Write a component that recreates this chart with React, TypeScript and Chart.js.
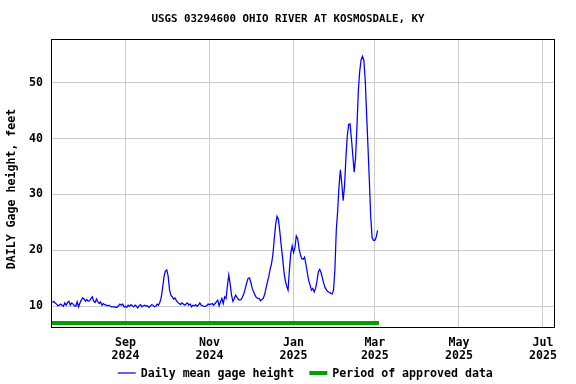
import React, { useEffect, useRef } from "react";
import { Chart, registerables } from "chart.js";

Chart.register(...registerables);

// ---- data ----
const TITLE = "USGS 03294600 OHIO RIVER AT KOSMOSDALE, KY";
const Y_TITLE = "DAILY Gage height, feet";
const SERIES_LABEL = "Daily mean gage height";
const APPROVED_LABEL = "Period of approved data";

const SERIES_START = "2024-07-10"; // first daily value
const AXIS_START = "2024-07-09";
const AXIS_END = "2025-07-09";
const APPROVED_START = "2024-07-09";
const APPROVED_END = "2025-03-04";
const APPROVED_LEVEL = 7.0;

const tickDates = ["2024-09-01", "2024-11-01", "2025-01-01", "2025-03-01", "2025-05-01", "2025-07-01"];
const tickMonths = ["Sep", "Nov", "Jan", "Mar", "May", "Jul"];
const tickYears = ["2024", "2024", "2025", "2025", "2025", "2025"];
const yTicks = [10, 20, 30, 40, 50];
const Y_MIN = 6.3;
const Y_MAX = 57.8;

// daily mean gage height (feet), Jul 10 2024 onward
const gageJulAug = [
  10.7, 10.9, 10.6, 10.4, 10.1, 10.2, 10.4, 10.2, 10.0, 10.6,
  10.2, 10.7, 10.9, 10.2, 10.6, 10.4, 10.1, 10.0, 10.8, 9.9,
  10.6, 11.1, 11.5, 11.3, 10.9, 11.2, 10.9, 11.0, 11.4, 11.7,
  10.9, 10.7, 11.3, 10.8, 10.5, 10.8, 10.2, 10.5, 10.3, 10.2,
  10.1, 10.2, 10.0, 9.9, 9.9, 9.9, 9.8, 9.8, 10.1, 10.4,
  10.2, 10.4, 9.9,
];
const gageSepOct = [
  10.0, 9.8, 10.2, 10.0, 10.3, 10.1, 9.9, 10.2, 10.0, 9.7,
  10.1, 10.3, 9.9, 10.1, 10.2, 10.0, 10.1, 9.8, 10.0, 10.3,
  10.2, 9.9, 10.0, 10.4, 10.2,
  10.7, 11.6, 13.3, 15.3, 16.3, 16.5, 15.4, 13.0, 12.0, 11.7,
  11.3, 11.5, 11.0, 10.7, 10.5, 10.3, 10.6, 10.4, 10.2, 10.4,
  10.6, 10.2, 10.4, 9.9, 10.2, 10.1, 10.3, 10.0, 10.2,
];
const gageNovDec = [
  10.6, 10.2, 10.1, 10.0, 10.0, 10.1, 10.4, 10.3, 10.4, 10.5,
  10.2, 10.5, 10.8, 11.1, 10.1, 10.8, 11.4, 10.5, 11.7, 11.4,
  13.6, 15.6, 14.0, 12.0, 10.9, 11.4, 12.0, 11.6, 11.2, 11.1,
  11.2, 11.7, 12.3, 13.2, 14.2, 15.0, 15.1, 14.3, 13.2, 12.6,
  12.0, 11.6, 11.4, 11.4, 11.0, 11.2, 11.4, 12.1, 13.2, 14.3,
  15.3, 16.6, 17.6, 19.2,
];
const gageDecJan = [
  22.0, 24.6, 26.1, 25.6, 23.5, 21.0, 18.8, 16.3, 14.6, 13.6,
  12.9, 16.5, 19.5, 20.8, 19.6, 20.5, 22.6, 22.1, 20.3, 19.2,
  18.5, 18.4, 18.8, 17.5, 16.0, 14.6, 13.8, 12.9, 13.2, 12.6,
  13.2, 14.5, 16.2, 16.6, 16.0, 15.0, 14.0, 13.3, 12.9, 12.6,
];
const gageJanMar = [
  12.5, 12.3, 12.2, 12.9, 16.5, 23.5, 27.0, 31.5, 34.4, 32.0,
  28.9, 31.5, 36.5, 40.5, 42.5, 42.6, 40.0, 37.0, 34.0, 36.5,
  42.0, 48.5, 52.0, 54.0, 54.7, 54.0, 50.5, 44.5, 38.6, 32.5,
  26.0, 22.3, 21.8, 21.8, 22.4, 23.6,
];

const gageHeight = [...gageJulAug, ...gageSepOct, ...gageNovDec, ...gageDecJan, ...gageJanMar];

const DAY = 86400000;
const dayOf = (iso: string) =>
  (Date.parse(iso + "T00:00:00Z") - Date.parse(SERIES_START + "T00:00:00Z")) / DAY;

const FONT_FAMILY = "'DejaVu Sans Mono', 'Liberation Mono', monospace";
const FONT_SIZE = 11.6;
const TITLE_SIZE = 10.8;

const SERIES_COLOR = "#0000ff";
const APPROVED_COLOR = "#00a000";

const framePlugin = {
  id: "frameAndLegend",
  afterDraw(chart: any) {
    const { ctx, chartArea: a, width } = chart;
    ctx.save();
    // frame
    ctx.strokeStyle = "#000";
    ctx.lineWidth = 1;
    ctx.strokeRect(a.left + 0.5, a.top + 0.5, a.right - a.left, a.bottom - a.top);

    // chart title, centred on the canvas
    ctx.fillStyle = "#000";
    ctx.font = `bold ${TITLE_SIZE}px ${FONT_FAMILY}`;
    ctx.textAlign = "center";
    ctx.textBaseline = "middle";
    ctx.fillText(TITLE, width / 2, 19.5);

    ctx.font = `bold ${FONT_SIZE}px ${FONT_FAMILY}`;

    // y axis title
    ctx.save();
    ctx.translate(11.5, 189);
    ctx.rotate(-Math.PI / 2);
    ctx.textAlign = "center";
    ctx.textBaseline = "middle";
    ctx.fillText(Y_TITLE, 0, 0);
    ctx.restore();

    // legend
    const items = chart.data.datasets.map((ds: any) => ({
      text: ds.label,
      color: ds.borderColor,
      width: ds.label === SERIES_LABEL ? 1.25 : ds.borderWidth,
    }));
    const sample = 18;
    const gap = 5;
    const itemGap = 15;
    const widths = items.map((it: any) => sample + gap + ctx.measureText(it.text).width);
    const total = widths.reduce((s: number, w: number) => s + w, 0) + itemGap * (items.length - 1);
    let x = (a.left + a.right) / 2 + 2.8 - total / 2;
    const y = 373;
    ctx.textAlign = "left";
    ctx.textBaseline = "middle";
    items.forEach((it: any, i: number) => {
      ctx.beginPath();
      ctx.strokeStyle = it.color;
      ctx.lineWidth = it.width;
      ctx.moveTo(x, y);
      ctx.lineTo(x + sample, y);
      ctx.stroke();
      ctx.fillStyle = "#000";
      ctx.fillText(it.text, x + sample + gap, y + 0.5);
      x += widths[i] + itemGap;
    });
    ctx.restore();
  },
};

export default function App() {
  const canvasRef = useRef<HTMLCanvasElement | null>(null);

  useEffect(() => {
    const canvas = canvasRef.current;
    if (!canvas) return;
    const tickDays = tickDates.map(dayOf);
    const font = { family: FONT_FAMILY, size: FONT_SIZE, weight: "bold" as const };

    const chart = new Chart(canvas, {
      type: "line",
      data: {
        datasets: [
          {
            label: SERIES_LABEL,
            data: gageHeight.map((v, i) => ({ x: i, y: v })),
            borderColor: SERIES_COLOR,
            backgroundColor: SERIES_COLOR,
            borderWidth: 1.25,
            pointRadius: 0,
            tension: 0,
            fill: false,
          },
          {
            label: APPROVED_LABEL,
            data: [
              { x: dayOf(APPROVED_START), y: APPROVED_LEVEL },
              { x: dayOf(APPROVED_END), y: APPROVED_LEVEL },
            ],
            borderColor: APPROVED_COLOR,
            backgroundColor: APPROVED_COLOR,
            borderWidth: 4,
            borderCapStyle: "butt",
            pointRadius: 0,
            fill: false,
          },
        ],
      },
      options: {
        responsive: false,
        animation: false,
        events: [],
        layout: { padding: { left: 0, right: 22, top: 39, bottom: 23 } },
        plugins: {
          legend: { display: false },
          tooltip: { enabled: false },
          title: { display: false },
        },
        scales: {
          x: {
            type: "linear",
            min: dayOf(AXIS_START),
            max: dayOf(AXIS_END),
            afterBuildTicks: (scale: any) => {
              scale.ticks = tickDays.map((v) => ({ value: v }));
            },
            afterFit: (scale: any) => {
              scale.height = 34;
            },
            ticks: {
              autoSkip: false,
              maxRotation: 0,
              padding: 9,
              color: "#000",
              font: { ...font, lineHeight: "13px" },
              callback: (_v: any, i: number) => [tickMonths[i], tickYears[i]],
            },
            grid: { color: "#cccccc", lineWidth: 1, drawTicks: false },
            border: { display: false },
          },
          y: {
            type: "linear",
            min: Y_MIN,
            max: Y_MAX,
            afterBuildTicks: (scale: any) => {
              scale.ticks = yTicks.map((v) => ({ value: v }));
            },
            afterFit: (scale: any) => {
              scale.width = 51;
            },
            ticks: {
              padding: 8,
              color: "#000",
              font,
              callback: (v: any) => String(v),
            },
            grid: { color: "#cccccc", lineWidth: 1, drawTicks: false },
            border: { display: false },
          },
        },
      },
      plugins: [framePlugin],
    } as any);

    return () => chart.destroy();
  }, []);

  return (
    <div style={{ position: "absolute", left: 0, top: 0, width: 576, height: 384, background: "#fff" }}>
      <canvas ref={canvasRef} width={576} height={384} style={{ display: "block" }} />
    </div>
  );
}
